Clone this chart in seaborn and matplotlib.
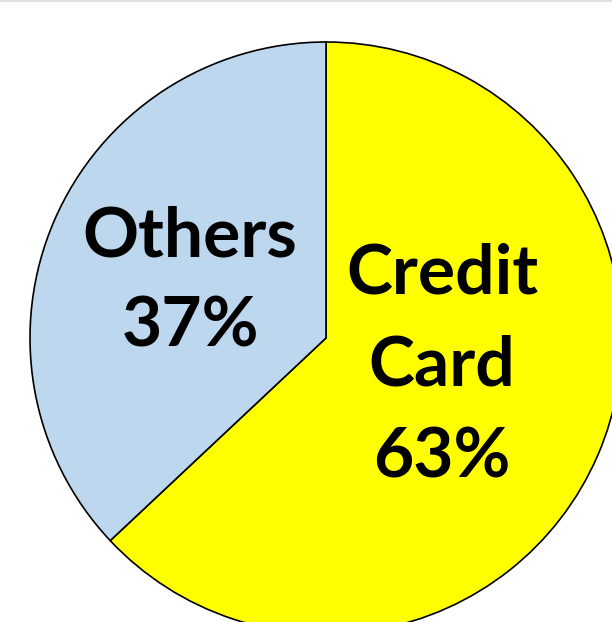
import matplotlib
matplotlib.use("Agg")
import matplotlib.pyplot as plt
import seaborn as sns

categories = ["Credit\nCard", "Others"]
values = [63, 37]
colors = ["#ffff00", "#bdd7ee"]

sns.set_style("white")
plt.rcParams['font.family'] = ['Lato', 'DejaVu Sans']

W, H = 612, 622
fig = plt.figure(figsize=(W / 100, H / 100), dpi=100)
ax = fig.add_axes([0, 0, 1, 1])
ax.set_xlim(0, W)
ax.set_ylim(0, H)
ax.set_aspect("equal")
ax.axis("off")

cx, cy, r = 326, H - 338, 296
wedges, _ = ax.pie(values, colors=colors, startangle=90, counterclock=False,
                   center=(cx, cy), radius=r, frame=True,
                   wedgeprops=dict(edgecolor="black", linewidth=1.2))
ax.set_xlim(0, W)
ax.set_ylim(0, H)
ax.axis("off")

labels = [f"{c}\n{v}%" for c, v in zip(categories, values)]
ax.text(442, H - 366, labels[0], ha="center", va="center", fontsize=50,
        fontweight="bold", linespacing=1.56, color="black")
ax.text(190, H - 282, labels[1], ha="center", va="center", fontsize=50,
        fontweight="bold", linespacing=1.54, color="black")

fig.add_artist(plt.Line2D([0, 1], [1 - 1 / H, 1 - 1 / H], color="#e0e0e0",
                          linewidth=1.5, transform=fig.transFigure))

fig.savefig("out.png", dpi=100)
